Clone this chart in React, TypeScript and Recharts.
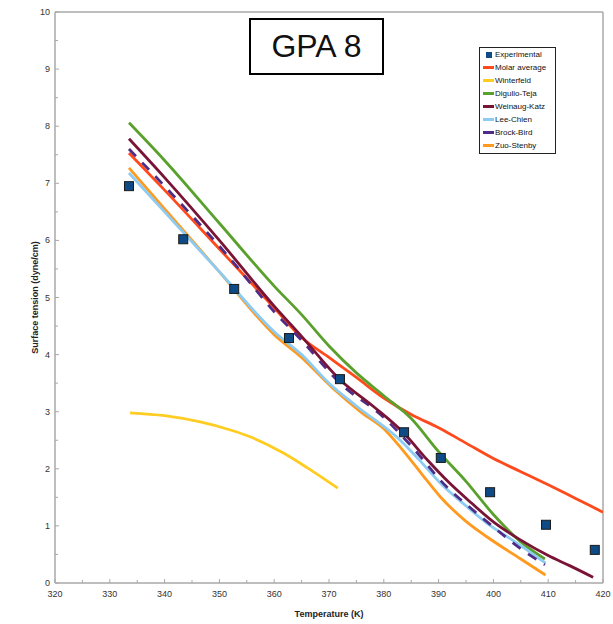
import React from 'react';
import { LineChart, Line, XAxis, YAxis, ReferenceLine } from 'recharts';

// Experimental points (Temperature K, surface tension dyne/cm)
const experimental = [
  { t: 333.5, v: 6.95 }, { t: 343.4, v: 6.02 }, { t: 352.7, v: 5.15 }, { t: 362.7, v: 4.29 },
  { t: 372.0, v: 3.57 }, { t: 383.7, v: 2.64 }, { t: 390.4, v: 2.19 }, { t: 399.4, v: 1.59 },
  { t: 409.6, v: 1.02 }, { t: 418.5, v: 0.58 },
];

const molarAverage = [
  { t: 333.5, v: 7.53 }, { t: 340, v: 6.88 }, { t: 350, v: 5.85 }, { t: 360, v: 4.82 },
  { t: 365, v: 4.3 }, { t: 370, v: 3.95 }, { t: 375, v: 3.6 }, { t: 380, v: 3.24 },
  { t: 385, v: 2.95 }, { t: 390, v: 2.72 }, { t: 395, v: 2.45 }, { t: 400, v: 2.18 },
  { t: 405, v: 1.95 }, { t: 410, v: 1.72 }, { t: 415, v: 1.48 }, { t: 420, v: 1.24 },
];

const winterfeld = [
  { t: 333.7, v: 2.98 }, { t: 340, v: 2.93 }, { t: 346.5, v: 2.82 }, { t: 352, v: 2.68 },
  { t: 355.6, v: 2.56 }, { t: 361.6, v: 2.28 }, { t: 366, v: 2.02 }, { t: 371.6, v: 1.66 },
];

const diguilioTeja = [
  { t: 333.5, v: 8.06 }, { t: 340, v: 7.4 }, { t: 350, v: 6.3 }, { t: 360, v: 5.2 },
  { t: 365, v: 4.7 }, { t: 370, v: 4.15 }, { t: 375, v: 3.68 }, { t: 380, v: 3.28 },
  { t: 385, v: 2.88 }, { t: 390, v: 2.3 }, { t: 395, v: 1.78 }, { t: 400, v: 1.2 },
  { t: 405, v: 0.72 }, { t: 409.4, v: 0.42 },
];

const weinaugKatz = [
  { t: 333.5, v: 7.78 }, { t: 340, v: 7.1 }, { t: 350, v: 6.0 }, { t: 360, v: 4.85 },
  { t: 365, v: 4.32 }, { t: 372, v: 3.56 }, { t: 378, v: 3.1 }, { t: 383.5, v: 2.64 },
  { t: 388, v: 2.15 }, { t: 392, v: 1.75 }, { t: 396, v: 1.4 }, { t: 400, v: 1.07 },
  { t: 405, v: 0.75 }, { t: 410, v: 0.48 }, { t: 414, v: 0.3 }, { t: 418.2, v: 0.1 },
];

const leeChien = [
  { t: 333.5, v: 7.18 }, { t: 340, v: 6.5 }, { t: 350, v: 5.45 }, { t: 360, v: 4.4 },
  { t: 365, v: 4.0 }, { t: 370, v: 3.5 }, { t: 375, v: 3.1 }, { t: 383, v: 2.5 },
  { t: 387, v: 2.1 }, { t: 390.3, v: 1.75 }, { t: 395, v: 1.35 }, { t: 398.8, v: 1.05 },
  { t: 403, v: 0.78 }, { t: 407, v: 0.52 }, { t: 409.5, v: 0.35 },
];

const brockBird = [
  { t: 333.5, v: 7.6 }, { t: 340, v: 6.95 }, { t: 352.5, v: 5.62 }, { t: 360, v: 4.75 },
  { t: 365, v: 4.25 }, { t: 372, v: 3.5 }, { t: 380, v: 2.9 }, { t: 385, v: 2.4 },
  { t: 391.5, v: 1.68 }, { t: 396, v: 1.3 }, { t: 400, v: 0.98 }, { t: 405, v: 0.6 },
  { t: 409.4, v: 0.32 },
];

const zuoStenby = [
  { t: 333.5, v: 7.27 }, { t: 340, v: 6.55 }, { t: 350, v: 5.45 }, { t: 360, v: 4.35 },
  { t: 365, v: 3.95 }, { t: 370.7, v: 3.41 }, { t: 376, v: 2.98 }, { t: 380, v: 2.7 },
  { t: 383, v: 2.38 }, { t: 387, v: 1.9 }, { t: 390.3, v: 1.51 }, { t: 395, v: 1.08 },
  { t: 398.8, v: 0.81 }, { t: 405, v: 0.42 }, { t: 409.5, v: 0.14 },
];

const xTicks = [320, 325, 330, 335, 340, 345, 350, 355, 360, 365, 370, 375, 380, 385, 390, 395, 400, 405, 410, 415, 420];
const yTicks = [0, 0.5, 1, 1.5, 2, 2.5, 3, 3.5, 4, 4.5, 5, 5.5, 6, 6.5, 7, 7.5, 8, 8.5, 9, 9.5, 10];

const legendItems = [
  { name: 'Experimental', color: '#0d4a86', marker: true },
  { name: 'Molar average', color: '#ff4a1c' },
  { name: 'Winterfeld', color: '#ffcc22' },
  { name: 'Digulio-Teja', color: '#5aa02c' },
  { name: 'Weinaug-Katz', color: '#7a1436' },
  { name: 'Lee-Chien', color: '#8ccbf2' },
  { name: 'Brock-Bird', color: '#4f2d86' },
  { name: 'Zuo-Stenby', color: '#ff9a1e' },
];

const axisGrey = '#a8a8a8';
const font = 'Arial, "Liberation Sans", sans-serif';

const XTick = (props: any) => {
  const { x, y, payload } = props;
  const major = payload.value % 10 === 0;
  return (
    <g>
      <line x1={x} x2={x} y1={y - 8} y2={y - 8 - (major ? 4 : 3)} stroke={axisGrey} strokeWidth={1} />
      {major && (
        <text x={x} y={y + 6} textAnchor="middle" fontSize={9} fill="#333" fontFamily={font}>
          {payload.value}
        </text>
      )}
    </g>
  );
};

const YTick = (props: any) => {
  const { x, y, payload } = props;
  const major = payload.value % 1 === 0;
  return (
    <g>
      <line x1={x + 8} x2={x + 8 + (major ? 4 : 3)} y1={y} y2={y} stroke={axisGrey} strokeWidth={1} />
      {major && (
        <text x={x + 3} y={y + 3} textAnchor="end" fontSize={9} fill="#333" fontFamily={font}>
          {payload.value}
        </text>
      )}
    </g>
  );
};

const ExpDot = (props: any) => {
  const { cx, cy } = props;
  if (cx == null || cy == null) return null;
  return <rect x={cx - 4.5} y={cy - 4.5} width={9} height={9} fill="#0d4a86" stroke="#1a1a1a" strokeWidth={1} />;
};

const LegendBox = () => (
  <div
    style={{
      position: 'absolute',
      left: 479,
      top: 47,
      border: '1px solid #222',
      background: '#fff',
      width: 77,
      height: 107,
      boxSizing: 'border-box',
      padding: '0 0 0 3px',
      fontFamily: font,
      fontSize: 8,
      color: '#111',
    }}
  >
    {legendItems.map((it) => (
      <div key={it.name} style={{ display: 'flex', alignItems: 'center', height: 13 }}>
        {it.marker ? (
          <span style={{ width: 11, display: 'inline-flex', justifyContent: 'center' }}>
            <span style={{ width: 6, height: 6, background: it.color, display: 'inline-block' }} />
          </span>
        ) : (
          <span style={{ width: 11, height: 3, background: it.color, display: 'inline-block' }} />
        )}
        <span style={{ marginLeft: 1 }}>{it.name}</span>
      </div>
    ))}
  </div>
);

export default function App() {
  const lineProps = {
    type: 'monotone' as const,
    dataKey: 'v',
    dot: false,
    activeDot: false,
    strokeWidth: 2.8,
    isAnimationActive: false,
    legendType: 'none' as const,
  };
  return (
    <div style={{ position: 'absolute', left: 0, top: 0, width: 613, height: 624, background: '#fff' }}>
      <LineChart width={613} height={624} margin={{ top: 12, right: 10, bottom: 0, left: 0 }}>
        <XAxis
          dataKey="t"
          type="number"
          domain={[320, 420]}
          ticks={xTicks}
          interval={0}
          allowDataOverflow
          height={41}
          tickSize={0}
          tickMargin={8}
          tick={<XTick />}
          axisLine={{ stroke: axisGrey, strokeWidth: 1.5 }}
          label={{ value: 'Temperature (K)', position: 'insideBottom', offset: 7, fontSize: 9, fontWeight: 'bold', fill: '#222', fontFamily: font }}
        />
        <YAxis
          type="number"
          domain={[0, 10]}
          ticks={yTicks}
          interval={0}
          width={55}
          tickSize={0}
          tickMargin={8}
          tick={<YTick />}
          axisLine={{ stroke: axisGrey, strokeWidth: 1.5 }}
          label={{ value: 'Surface tension (dyne/cm)', angle: -90, position: 'insideLeft', offset: 35, style: { textAnchor: 'middle' }, fontSize: 9, fontWeight: 'bold', fill: '#222', fontFamily: font }}
        />
        <ReferenceLine y={10} stroke={axisGrey} strokeWidth={1.5} />
        <ReferenceLine x={420} stroke={axisGrey} strokeWidth={1.5} />
        <Line {...lineProps} data={winterfeld} stroke="#ffcc22" name="Winterfeld" />
        <Line {...lineProps} data={molarAverage} stroke="#ff4a1c" name="Molar average" />
        <Line {...lineProps} data={diguilioTeja} stroke="#5aa02c" name="Digulio-Teja" />
        <Line {...lineProps} data={zuoStenby} stroke="#ff9a1e" name="Zuo-Stenby" />
        <Line {...lineProps} data={leeChien} stroke="#8ccbf2" name="Lee-Chien" />
        <Line {...lineProps} data={brockBird} stroke="#4f2d86" strokeDasharray="10 9" name="Brock-Bird" />
        <Line {...lineProps} data={weinaugKatz} stroke="#7a1436" name="Weinaug-Katz" />
        <Line
          data={experimental}
          dataKey="v"
          stroke="none"
          dot={<ExpDot />}
          activeDot={false}
          isAnimationActive={false}
          legendType="none"
          name="Experimental"
        />
      </LineChart>
      <LegendBox />
      <div
        style={{
          position: 'absolute',
          left: 249,
          top: 18,
          width: 135,
          height: 57,
          boxSizing: 'border-box',
          border: '2px solid #000',
          background: '#fff',
          display: 'flex',
          alignItems: 'center',
          justifyContent: 'center',
          fontFamily: font,
          fontSize: 32,
          color: '#111',
        }}
      >
        GPA 8
      </div>
    </div>
  );
}
